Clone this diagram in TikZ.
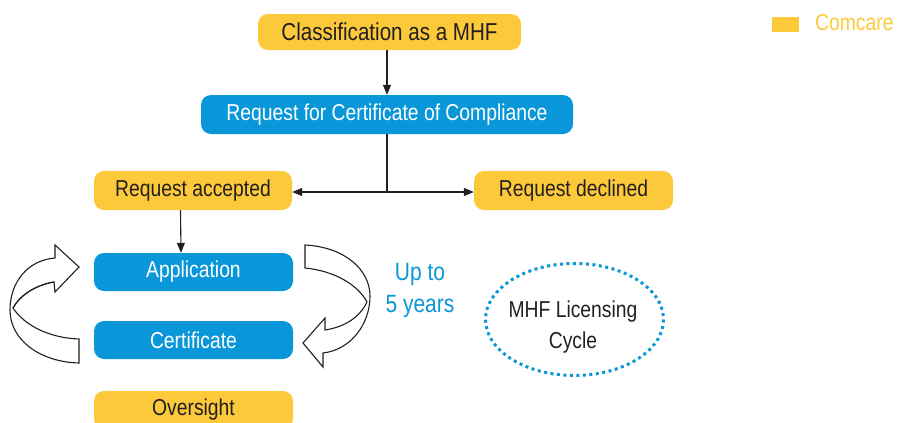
\documentclass[tikz,border=0pt]{standalone}
\usepackage{fontspec}
\setmainfont{Liberation Sans}[FakeStretch=0.84]
\usetikzlibrary{arrows.meta}
\definecolor{cyellow}{HTML}{FCC93A}
\definecolor{cblue}{HTML}{0A97D9}
\definecolor{cink}{HTML}{231F20}
\tikzset{
  box/.style={rectangle, rounded corners=10pt, inner sep=0pt, minimum width=199pt,
    minimum height=38pt, font=\fontsize{23}{27}\selectfont},
  ybox/.style={box, fill=cyellow, text=cink},
  bbox/.style={box, fill=cblue, text=white},
  link/.style={draw=cink, line width=1.1pt},
  arr/.style={link, -{Triangle[length=10pt,width=8pt]}},
  blockarrow/.style={draw=cink, line width=1.1pt, fill=white, line join=miter},
  lbl/.style={font=\fontsize{23}{27}\selectfont, align=center, inner sep=0pt}
}
\begin{document}
\begin{tikzpicture}[x=1pt, y=-1pt]
\useasboundingbox (0,0) rectangle (900,423);

% main flow boxes
\node[ybox, minimum width=263pt, minimum height=36pt, font=\fontsize{24.5}{28}\selectfont] (cls) at (389.5,32) {Classification as a MHF};
\node[bbox, minimum width=372pt, minimum height=39pt] (req) at (387,114.5) {Request for Certificate of Compliance};
\node[ybox, minimum width=198pt, minimum height=39pt] (acc) at (193,190.5) {Request accepted};
\node[ybox, minimum height=39pt] (dec) at (573.5,190.5) {Request declined};
\node[bbox] (app) at (193.5,272) {Application};
\node[bbox] (cert) at (193.5,340) {Certificate};
\node[ybox] (ovs) at (193.5,410) {Oversight};

% connectors
\draw[arr] (cls.south -| req.north) -- (req.north);
\coordinate (split) at (387,192);
\draw[link] (req.south) -- (split);
\draw[arr] (split) -- (split -| acc.east);
\draw[arr] (split) -- (split -| dec.west);
\draw[arr] ([xshift=-12.5pt]acc.south) -- ([xshift=-12.5pt]app.north);

% left block arrow: certificate back up to application
\draw[blockarrow]
  (79,339) -- (79,363)
  .. controls (40,362) and (10,340) .. (10,310)
  .. controls (10,282) and (28,260) .. (55,258)
  -- (55,245) -- (79,267) -- (55,292) -- (54,282)
  .. controls (36,285) and (20,295) .. (13,308)
  .. controls (25,326) and (50,338) .. (79,339) -- cycle;
\draw[cink, line width=1.1pt] (13,308) .. controls (20,295) and (36,285) .. (54,282);

% right block arrow: application down to certificate
\draw[blockarrow]
  (305,245) .. controls (345,247) and (370,270) .. (370,296)
  .. controls (370,325) and (350,350) .. (323,353)
  -- (323,367) -- (303,343) -- (325,318) -- (325,330)
  .. controls (345,327) and (360,317) .. (367,302)
  .. controls (358,285) and (335,271) .. (305,268) -- cycle;

% cycle notes
\node[lbl, text=cblue, font=\fontsize{25}{29}\selectfont] (upto) at (420,274) {Up to};
\node[lbl, text=cblue, font=\fontsize{25}{29}\selectfont] (years) at (420,306) {5 years};

\draw[cblue, line width=3pt, dash pattern=on 3pt off 3.5pt] (574.5,319.5) ellipse [x radius=89, y radius=56];
\node[lbl, text=cink] (mhf) at (573,312) {MHF Licensing};
\node[lbl, text=cink] (cyc) at (573,343) {Cycle};

% legend
\node[rectangle, fill=cyellow, minimum width=27pt, minimum height=15pt, inner sep=0pt] (key) at (785.5,24.5) {};
\node[lbl, text=cyellow, anchor=west] (keytxt) at (815,23) {Comcare};
\end{tikzpicture}
\end{document}
